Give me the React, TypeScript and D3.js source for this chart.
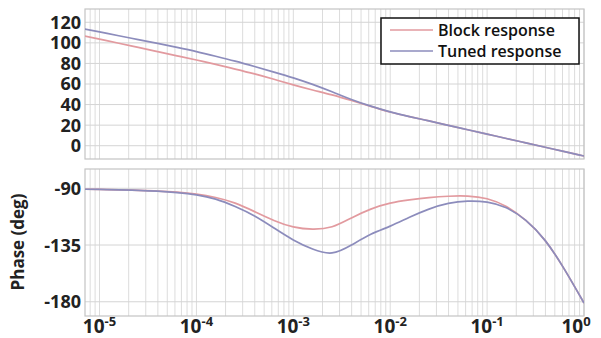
import React from "react";
import * as d3 from "d3";

// frequency samples, 0.2 decade apart (10^-5.2 ... 10^0)
const freqs = [
  6.31e-6, 1e-5, 1.58e-5, 2.51e-5, 3.98e-5, 6.31e-5, 1e-4, 1.58e-4, 2.51e-4,
  3.98e-4, 6.31e-4, 1e-3, 1.58e-3, 2.51e-3, 3.98e-3, 6.31e-3, 1e-2, 1.58e-2,
  2.51e-2, 3.98e-2, 6.31e-2, 0.1, 0.158, 0.251, 0.398, 0.631, 1,
];

// magnitude (dB)
const magBlock = [
  107.5, 103.6, 99.6, 95.6, 91.5, 87.4, 83.3, 79, 74.5, 69.8, 64.6, 59.2, 54.2,
  49.4, 44, 38.3, 32.8, 28.3, 24.1, 19.8, 15.5, 11.3, 7, 2.8, -1.5, -5.7, -10,
];
const magTuned = [
  114.3, 110.6, 106.9, 103.2, 99.5, 95.6, 91.5, 87, 82.2, 77, 71.6, 66, 59.6,
  52.4, 45, 38.5, 32.9, 28.3, 24.1, 19.8, 15.5, 11.3, 7, 2.8, -1.5, -5.7, -10,
];

// phase (deg)
const phaseBlock = [
  -90.7, -90.9, -91.2, -91.6, -92.2, -93.1, -94.6, -97.3, -101.8, -108.5,
  -115.5, -120.6, -122.4, -120.5, -113.5, -106.5, -101.8, -99.2, -97.4, -96.3,
  -96.2, -98.3, -104.5, -115.5, -131.5, -154.5, -181,
];
const phaseTuned = [
  -90.7, -90.9, -91.2, -91.6, -92.3, -93.4, -95.2, -98.6, -104.5, -112,
  -121.5, -131, -138.2, -141.3, -135, -126.5, -120, -113, -106.5, -102,
  -100.2, -101, -105.5, -115.5, -131.5, -154.5, -181,
];

const magTicks = [0, 20, 40, 60, 80, 100, 120];
const phaseTicks = [-180, -135, -90];
const decades = [-5, -4, -3, -2, -1, 0];
const seriesNames = ["Block response", "Tuned response"];
const colors = ["#e29a9f", "#8c8cbc"];

const W = 601;
const H = 338;
const left = 85;
const right = 584;
const font = "'Open Sans', 'DejaVu Sans', sans-serif";

const x = d3.scaleLog().domain([7.08e-6, 1]).range([left, right]);
const yMag = d3.scaleLinear().domain([-12.9, 132.9]).range([159, 9]);
const yPh = d3.scaleLinear().domain([-191.3, -74.7]).range([316, 169]);

const Panel = ({ id, y, ticks, series }) => {
  const [y0, y1] = y.range();
  const line = d3
    .line<number>()
    .x((_, i) => x(freqs[i]))
    .y((d) => y(d))
    .curve(d3.curveNatural);
  return (
    <g>
      <defs>
        <clipPath id={id}>
          <rect x={left} y={y1} width={right - left} height={y0 - y1} />
        </clipPath>
      </defs>
      <rect x={left} y={y1} width={right - left} height={y0 - y1} fill="#fff" />
      {x.ticks().map((t, i) => (
        <line key={"v" + i} x1={x(t)} x2={x(t)} y1={y1} y2={y0} stroke="#dcdcdc" strokeWidth={1} />
      ))}
      {ticks.map((t) => (
        <line key={"h" + t} x1={left} x2={right} y1={y(t)} y2={y(t)} stroke="#d4d4d4" strokeWidth={1} />
      ))}
      <rect x={left} y={y1} width={right - left} height={y0 - y1} fill="none" stroke="#c4c4c4" strokeWidth={1.2} />
      <g clipPath={`url(#${id})`}>
        {series.map((s, i) => (
          <path key={i} d={line(s) || ""} fill="none" stroke={colors[i]} strokeWidth={1.7} />
        ))}
      </g>
      {ticks.map((t) => (
        <text key={"l" + t} x={81} y={y(t)} dy="0.36em" textAnchor="end" fontSize={18} fontWeight={700} fill="#222" fontFamily={font}>
          {t}
        </text>
      ))}
    </g>
  );
};

export default function App() {
  return (
    <svg width={W} height={H} style={{ position: "absolute", left: 0, top: 0, background: "#fff" }}>
      <Panel id="clipMag" y={yMag} ticks={magTicks} series={[magBlock, magTuned]} />
      <Panel id="clipPh" y={yPh} ticks={phaseTicks} series={[phaseBlock, phaseTuned]} />

      {/* legend */}
      <g fontFamily={font}>
        <rect x={381} y={18} width={198} height={46} fill="#fff" stroke="#111" strokeWidth={1.5} />
        {seriesNames.map((n, i) => (
          <g key={n}>
            <line x1={390} x2={433} y1={30 + i * 21} y2={30 + i * 21} stroke={colors[i]} strokeWidth={1.7} />
            <text x={438} y={36 + i * 21} fontSize={16} fontWeight={600} fill="#111">
              {n}
            </text>
          </g>
        ))}
      </g>

      {/* x tick labels */}
      {decades.map((k) => (
        <text key={k} x={Math.min(x(Math.pow(10, k)), 576)} y={333} textAnchor="middle" fontSize={19} fontWeight={700} fill="#222" fontFamily={font}>
          10
          <tspan dy={-7} fontSize={13}>
            {k}
          </tspan>
        </text>
      ))}

      <text
        transform="translate(24,242) rotate(-90)"
        textAnchor="middle"
        fontSize={17}
        fontWeight={700}
        fill="#222"
        fontFamily={font}
      >
        Phase (deg)
      </text>
    </svg>
  );
}
